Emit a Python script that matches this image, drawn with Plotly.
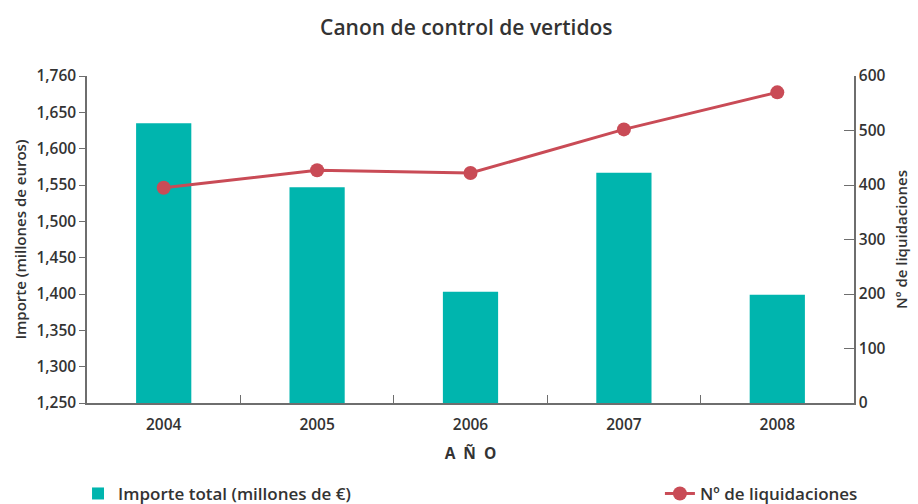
import plotly.graph_objects as go

years = ["2004", "2005", "2006", "2007", "2008"]
importe = [1635, 1547, 1403, 1567, 1399]
liquidaciones = [395, 427, 422, 502, 570]
left_tickvals = [1250, 1300, 1350, 1400, 1450, 1500, 1550, 1600, 1650, 1700]
left_ticktext = ["1,250", "1,300", "1,350", "1,400", "1,450", "1,500", "1,550", "1,600", "1,650", "1,760"]
right_tickvals = [0, 100, 200, 300, 400, 500, 600]

TEAL = "#00B5AE"
RED = "#C94B56"
AX = "#6e6e6e"
TXT = "#333333"
FONT = "Open Sans"

fig = go.Figure()
fig.add_trace(go.Bar(
    x=years, y=importe, name="Importe total (millones de €)",
    marker=dict(color=TEAL, line=dict(width=0)), width=0.36,
    legend="legend", showlegend=True,
))
fig.add_trace(go.Scatter(
    x=years, y=liquidaciones, name="Nº de liquidaciones", yaxis="y2",
    mode="lines+markers", line=dict(color=RED, width=3),
    marker=dict(color=RED, size=14), legend="legend2", showlegend=True,
))

fig.update_layout(
    width=918, height=504,
    margin=dict(l=87, r=64, t=76, b=101, autoexpand=False),
    plot_bgcolor="white", paper_bgcolor="white",
    showlegend=True,
    font=dict(family=FONT, color=TXT, size=15, weight=600),
    title=dict(text="Canon de control de vertidos", x=0.508, xanchor="center",
               y=0.946, yanchor="middle",
               font=dict(size=21, family=FONT, color=TXT, weight=600)),
    xaxis=dict(
        range=[-0.5, 4.5], showline=True, linecolor=AX, linewidth=1.5,
        ticks="inside", tickson="boundaries", ticklen=8, tickcolor=AX, tickwidth=1,
        showgrid=False, zeroline=False, automargin=False, ticklabelstandoff=7,
        tickfont=dict(size=15.5, color=TXT, family=FONT, weight=600),
        title=dict(text="A  Ñ  O", font=dict(size=15.5, color=TXT, family=FONT, weight=700), standoff=14),
    ),
    yaxis=dict(
        range=[1250, 1700], tickvals=left_tickvals, ticktext=left_ticktext,
        showline=True, linecolor=AX, linewidth=1.5,
        ticks="outside", ticklen=6, tickcolor=AX, tickwidth=1,
        showgrid=False, zeroline=False, automargin=False,
        tickfont=dict(size=15.5, color=TXT, family=FONT, weight=600),
        title=dict(text="Importe (millones de euros)", font=dict(size=15, color=TXT, family=FONT, weight=600), standoff=6),
    ),
    yaxis2=dict(
        range=[0, 600], tickvals=right_tickvals, overlaying="y", side="right",
        showline=True, linecolor=AX, linewidth=1.5,
        ticks="inside", ticklen=10, tickcolor=AX, tickwidth=1,
        showgrid=False, zeroline=False, automargin=False,
        tickfont=dict(size=15.5, color=TXT, family=FONT, weight=600),
        title=dict(text="Nº de liquidaciones", font=dict(size=15, color=TXT, family=FONT, weight=600), standoff=12),
    ),
    legend=dict(xref="container", yref="container", x=0.085, xanchor="left", y=0.02, yanchor="middle",
                orientation="h", font=dict(size=17, color=TXT, family=FONT, weight=600),
                bgcolor="rgba(0,0,0,0)"),
    legend2=dict(xref="container", yref="container", x=0.94, xanchor="right", y=0.02, yanchor="middle",
                 orientation="h", font=dict(size=17, color=TXT, family=FONT, weight=600),
                 bgcolor="rgba(0,0,0,0)"),
)

fig.write_html("out.html", config={"displayModeBar": False},
               post_script="document.body.style.margin='0';document.body.style.padding='0';")
